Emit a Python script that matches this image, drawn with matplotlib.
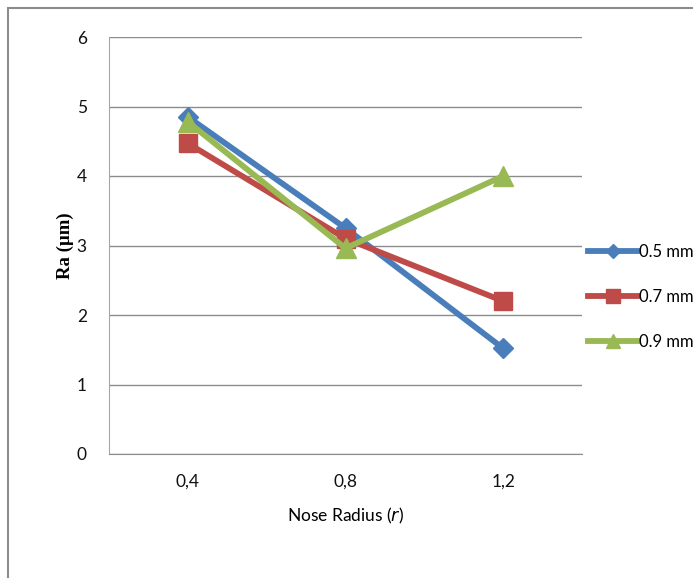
import matplotlib
matplotlib.use("Agg")
import matplotlib.pyplot as plt
from matplotlib.patches import Rectangle

# data
categories = ["0,4", "0,8", "1,2"]
series_names = ["0.5 mm", "0.7 mm", "0.9 mm"]
ra_05 = [4.85, 3.25, 1.52]
ra_07 = [4.47, 3.10, 2.20]
ra_09 = [4.78, 2.96, 4.00]

colors = ["#4A7EBB", "#BE4B48", "#98B954"]
markers = ["D", "s", "^"]
msizes = [10, 13, 14]

plt.rcParams["font.family"] = ["Lato", "DejaVu Sans"]

fig = plt.figure(figsize=(6.93, 5.78), dpi=100)
ax = fig.add_axes([109 / 693, 1 - 454 / 578, 473 / 693, 417 / 578])

# outer chart border
fig.patches.append(Rectangle((8 / 693, -0.1), 1.2, 1 - 8 / 578 + 0.1,
                             transform=fig.transFigure, fill=False,
                             edgecolor="#8c8c8c", linewidth=1.5))

x = list(range(len(categories)))
for vals, name, c, m, ms in zip([ra_05, ra_07, ra_09], series_names, colors, markers, msizes):
    ax.plot(x, vals, color=c, linewidth=4.2, marker=m, markersize=ms,
            markerfacecolor=c, markeredgecolor=c, label=name, zorder=3)

ax.set_xlim(-0.5, 2.5)
ax.set_ylim(0, 6)
ax.set_yticks(range(0, 7))
ax.set_xticks(x)
ax.set_xticklabels(categories)
ax.grid(axis="y", color="#8c8c8c", linewidth=1)
ax.set_axisbelow(True)
for s in ["top", "right"]:
    ax.spines[s].set_visible(False)
ax.spines["left"].set_color("#a6a6a6")
ax.spines["bottom"].set_color("#8c8c8c")
ax.tick_params(axis="both", length=0, labelsize=12.5, colors="#111111")
ax.tick_params(axis="y", pad=16)
ax.tick_params(axis="x", pad=14)

ax.set_ylabel("Ra (\u00b5m)", family="Liberation Serif", fontweight="bold",
              fontsize=13.5, labelpad=2)
ax.set_xlabel("Nose Radius ($\\mathit{r}$)", fontsize=12.5, labelpad=12)

leg = fig.legend(loc="center left", bbox_to_anchor=(581 / 693, 1 - 297 / 578),
                 frameon=False, fontsize=12, handlelength=3.0, handletextpad=0.1,
                 labelspacing=1.75, borderaxespad=0, markerscale=0.75)

fig.savefig("out.png", dpi=100)
